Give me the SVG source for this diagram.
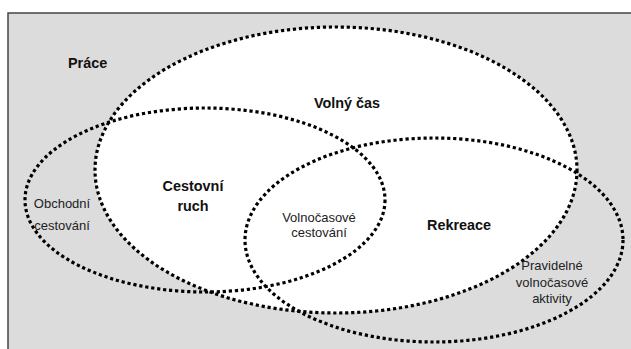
<svg xmlns="http://www.w3.org/2000/svg" width="631" height="349" viewBox="0 0 631 349">
  <style>
    .set { fill: none; stroke: #000; stroke-width: 3.2; stroke-dasharray: 3.2 2.8; }
    .bold { font-family: "Liberation Sans", Arial, sans-serif; font-weight: bold; font-size: 14.4px; fill: #111; }
    .reg { font-family: "Liberation Sans", Arial, sans-serif; font-size: 13px; fill: #222; }
  </style>
  <rect x="0" y="0" width="631" height="349" fill="#ffffff"/>
  <g id="prace">
    <rect x="8" y="13" width="640" height="360" fill="#dcdcdc" stroke="#444" stroke-width="1.5"/>
    <text class="bold" x="68" y="68">Práce</text>
  </g>
  <g id="volny-cas">
    <ellipse cx="336" cy="170" rx="241" ry="143" fill="#ffffff"/>
    <ellipse class="set" cx="336" cy="170" rx="241" ry="143"/>
    <text class="bold" x="314" y="108">Volný čas</text>
  </g>
  <g id="cestovni-ruch">
    <ellipse class="set" cx="205" cy="200" rx="180" ry="92"/>
    <text class="bold" x="193" y="191" text-anchor="middle">Cestovní</text>
    <text class="bold" x="193" y="211" text-anchor="middle">ruch</text>
    <text class="reg" x="62" y="208" text-anchor="middle">Obchodní</text>
    <text class="reg" x="62" y="230" text-anchor="middle">cestování</text>
  </g>
  <g id="rekreace">
    <ellipse class="set" cx="434" cy="240" rx="189" ry="102"/>
    <text class="bold" x="427" y="230">Rekreace</text>
    <text class="reg" x="552" y="270" text-anchor="middle">Pravidelné</text>
    <text class="reg" x="552" y="287" text-anchor="middle">volnočasové</text>
    <text class="reg" x="552" y="303" text-anchor="middle">aktivity</text>
  </g>
  <g id="volnocasove-cestovani">
    <text class="reg" x="319" y="222" text-anchor="middle">Volnočasové</text>
    <text class="reg" x="319" y="237" text-anchor="middle">cestování</text>
  </g>
  <g id="connectors"/>
</svg>
